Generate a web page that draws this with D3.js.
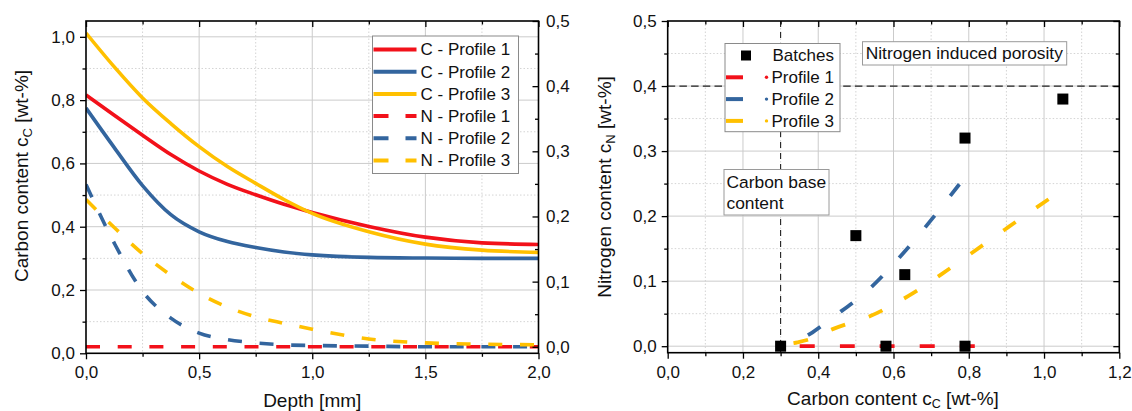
<!DOCTYPE html>
<html>
<head>
<meta charset="utf-8">
<script src="https://cdn.jsdelivr.net/npm/d3@7"></script>
<style>
  html, body { margin: 0; padding: 0; background: #fff; }
  svg { display: block; }
  svg text { font-family: "Liberation Sans", Arial, sans-serif; fill: #111; }
  .tick text { font-size: 17px; }
  .legend text { font-size: 17px; }
  .note text { font-size: 17.4px; }
  .title { font-size: 19px; }
</style>
</head>
<body>
<svg id="chart" width="1132" height="411"></svg>
<script>
// Depth profiles (depth in mm, contents in wt-%)
const depth     = [0, 0.125, 0.25, 0.375, 0.5, 0.625, 0.75, 0.875, 1.0, 1.25, 1.5, 1.75, 2.0];
const carbon1   = [0.816, 0.752, 0.689, 0.628, 0.576, 0.534, 0.501, 0.471, 0.445, 0.401, 0.367, 0.349, 0.344];
const carbon2   = [0.775, 0.650, 0.530, 0.438, 0.384, 0.353, 0.334, 0.320, 0.311, 0.303, 0.301, 0.300, 0.300];
const carbon3   = [1.012, 0.905, 0.807, 0.726, 0.653, 0.590, 0.537, 0.486, 0.442, 0.384, 0.345, 0.326, 0.319];
const nitrogen1 = [0, 0, 0, 0, 0, 0, 0, 0, 0, 0, 0, 0, 0];
const nitrogen2 = [0.249, 0.159, 0.085, 0.044, 0.021, 0.011, 0.006, 0.003, 0.002, 0.001, 0, 0, 0];
const nitrogen3 = [0.226, 0.183, 0.143, 0.110, 0.082, 0.061, 0.046, 0.036, 0.027, 0.012, 0.006, 0.004, 0.003];

// Measured batches
const batchCarbon   = [0.30, 0.50, 0.58, 0.63, 0.79, 0.79, 1.05];
const batchNitrogen = [0, 0.17, 0, 0.11, 0.32, 0, 0.38];

// Reference limits
const carbonBase = 0.3;
const porosityLimit = 0.4;

// Tick values
const depthMajor    = [0, 0.5, 1.0, 1.5, 2.0];
const depthMinor    = [0.25, 0.75, 1.25, 1.75];
const carbonMajorL  = [0, 0.2, 0.4, 0.6, 0.8, 1.0];
const carbonMinorL  = [0.1, 0.3, 0.5, 0.7, 0.9];
const nitroMajor    = [0, 0.1, 0.2, 0.3, 0.4, 0.5];
const nitroMinor    = [0.05, 0.15, 0.25, 0.35, 0.45];
const carbonMajorR  = [0, 0.2, 0.4, 0.6, 0.8, 1.0, 1.2];
const carbonMinorR  = [0.1, 0.3, 0.5, 0.7, 0.9, 1.1];

const profileNames = ["Profile 1", "Profile 2", "Profile 3"];
const colors = ["#f2111a", "#33659e", "#ffc000"];

const fmt = d3.formatLocale({decimal: ",", thousands: ".", grouping: [3], currency: ["", ""]}).format(".1f");
const svg = d3.select("#chart");

// ---------- helpers ----------
function drawAxis(g, axisFn, scale, major, minor, side, labels) {
  const inward = side === "top" || side === "right-in";
  const base = side === "right-in" ? d3.axisRight : axisFn;
  const maj = base(scale).tickValues(major).tickSize(inward ? -6 : 6)
    .tickPadding(side === "bottom" ? 7 : (side === "right-in" ? 7.5 : 5))
    .tickFormat(labels ? fmt : () => "");
  const min = base(scale).tickValues(minor).tickSize(inward ? -3.5 : 3.5).tickFormat(() => "");
  const a = g.append("g").call(maj);
  const b = g.append("g").call(min);
  [a, b].forEach(s => {
    s.select(".domain").remove();
    s.attr("font-size", null).attr("font-family", null);
    s.selectAll("line").attr("stroke", "#000").attr("stroke-width", 1.3);
  });
}

function grid(g, scale, values, orient, box, minor) {
  g.selectAll(null).data(values).join("line")
    .attr("x1", d => orient === "v" ? scale(d) : box.x0)
    .attr("x2", d => orient === "v" ? scale(d) : box.x1)
    .attr("y1", d => orient === "v" ? box.y0 : scale(d))
    .attr("y2", d => orient === "v" ? box.y1 : scale(d))
    .attr("stroke", minor ? "#d4d4d4" : "#cbcbcb")
    .attr("stroke-width", 1)
    .attr("stroke-dasharray", minor ? "1.5,2" : null);
}

// ---------- left panel: profiles over depth ----------
const L = {x0: 86, x1: 538.5, y0: 21, y1: 353.3};
const xD = d3.scaleLinear().domain([0, 2]).range([L.x0, L.x1]);
const yC = d3.scaleLinear().domain([0, 1.05]).range([L.y1, L.y0]);
const yN = d3.scaleLinear().domain([-0.01, 0.5]).range([L.y1, L.y0]);

const left = svg.append("g");
svg.append("clipPath").attr("id", "clipL").append("rect")
  .attr("x", L.x0).attr("y", L.y0).attr("width", L.x1 - L.x0).attr("height", L.y1 - L.y0);

const gl = left.append("g");
grid(gl, xD, depthMinor, "v", L, true);
grid(gl, yC, carbonMinorL, "h", L, true);
grid(gl, xD, depthMajor.slice(1, -1), "v", L, false);
grid(gl, yC, carbonMajorL.slice(1), "h", L, false);

const carbonSets = [carbon1, carbon2, carbon3];
const nitroSets = [nitrogen1, nitrogen2, nitrogen3];
const lineC = d3.line().x(d => xD(d[0])).y(d => yC(d[1])).curve(d3.curveMonotoneX);
const lineN = d3.line().x(d => xD(d[0])).y(d => yN(d[1])).curve(d3.curveMonotoneX);

const curves = left.append("g").attr("clip-path", "url(#clipL)");
nitroSets.forEach((n, i) => {
  curves.append("path").attr("d", lineN(d3.zip(depth, n)))
    .attr("fill", "none").attr("stroke", colors[i]).attr("stroke-width", 3.6)
    .attr("stroke-dasharray", "14,17.7");
});
carbonSets.forEach((c, i) => {
  curves.append("path").attr("d", lineC(d3.zip(depth, c)))
    .attr("fill", "none").attr("stroke", colors[i]).attr("stroke-width", 3.6);
});

// left legend
const lg = left.append("g").attr("class", "legend");
lg.append("rect").attr("x", 372.5).attr("y", 36).attr("width", 146).attr("height", 137.5)
  .attr("fill", "#fff").attr("stroke", "#8a8a8a").attr("stroke-width", 1);
const legendL = [
  ...profileNames.map((p, i) => ({label: "C - " + p, color: colors[i], dash: null})),
  ...profileNames.map((p, i) => ({label: "N - " + p, color: colors[i], dash: "15,17"}))
];
legendL.forEach((e, i) => {
  const y = 49.5 + i * 22.2;
  lg.append("line").attr("x1", 373.5).attr("x2", 416.5).attr("y1", y).attr("y2", y)
    .attr("stroke", e.color).attr("stroke-width", 4).attr("stroke-dasharray", e.dash);
  lg.append("text").attr("x", 420.5).attr("y", y).attr("dy", "0.35em").text(e.label);
});

// left axes and frame
drawAxis(left.append("g").attr("transform", `translate(0,${L.y1})`), d3.axisBottom, xD, depthMajor, depthMinor, "bottom", true);
drawAxis(left.append("g").attr("transform", `translate(0,${L.y0})`), d3.axisTop, xD, depthMajor, depthMinor, "top", false);
drawAxis(left.append("g").attr("transform", `translate(${L.x0},0)`), d3.axisLeft, yC, carbonMajorL, carbonMinorL, "left", true);
drawAxis(left.append("g").attr("transform", `translate(${L.x1},0)`), d3.axisRight, yN, nitroMajor, nitroMinor, "right-in", true);
left.append("rect").attr("x", L.x0).attr("y", L.y0).attr("width", L.x1 - L.x0).attr("height", L.y1 - L.y0)
  .attr("fill", "none").attr("stroke", "#000").attr("stroke-width", 1.6);

left.append("text").attr("class", "title").attr("x", (L.x0 + L.x1) / 2).attr("y", 406.5)
  .attr("text-anchor", "middle").text("Depth [mm]");
const tL = left.append("text").attr("class", "title").attr("text-anchor", "middle")
  .attr("transform", "translate(27.5,176) rotate(-90)");
tL.append("tspan").text("Carbon content c");
tL.append("tspan").attr("font-size", 13).attr("dy", 4).text("C");
tL.append("tspan").attr("dy", -4).text(" [wt-%]");

// ---------- right panel: nitrogen over carbon ----------
const R = {x0: 667.7, x1: 1119.3, y0: 21, y1: 352.7};
const xR = d3.scaleLinear().domain([0, 1.2]).range([R.x0, R.x1]);
const yR = d3.scaleLinear().domain([-0.01, 0.5]).range([R.y1, R.y0]);

const right = svg.append("g");
svg.append("clipPath").attr("id", "clipR").append("rect")
  .attr("x", R.x0).attr("y", R.y0).attr("width", R.x1 - R.x0).attr("height", R.y1 - R.y0);

const gr = right.append("g");
grid(gr, xR, carbonMinorR, "v", R, true);
grid(gr, yR, nitroMinor, "h", R, true);
grid(gr, xR, carbonMajorR.slice(1, -1), "v", R, false);
grid(gr, yR, nitroMajor.slice(0, -1), "h", R, false);

// reference limits
right.append("line").attr("x1", R.x0).attr("x2", R.x1).attr("y1", yR(porosityLimit)).attr("y2", yR(porosityLimit))
  .attr("stroke", "#222").attr("stroke-width", 1.3).attr("stroke-dasharray", "7.5,4.2");
right.append("line").attr("x1", xR(carbonBase)).attr("x2", xR(carbonBase)).attr("y1", R.y0).attr("y2", R.y1)
  .attr("stroke", "#222").attr("stroke-width", 1.1).attr("stroke-dasharray", "6,5");

const lineCN = d3.line().x(d => xR(d[0])).y(d => yR(d[1])).curve(d3.curveCatmullRom.alpha(0.5));
const pr = right.append("g").attr("clip-path", "url(#clipR)");
carbonSets.forEach((c, i) => {
  pr.append("path").attr("d", lineCN(d3.zip(c, nitroSets[i])))
    .attr("fill", "none").attr("stroke", colors[i]).attr("stroke-width", 3.8)
    .attr("stroke-dasharray", "15,25");
});

const sq = 11;
pr.selectAll(null).data(d3.zip(batchCarbon, batchNitrogen)).join("rect")
  .attr("x", d => xR(d[0]) - sq / 2).attr("y", d => yR(d[1]) - sq / 2)
  .attr("width", sq).attr("height", sq).attr("fill", "#000");

// annotation boxes
const nb = right.append("g").attr("class", "note");
nb.append("rect").attr("x", 724).attr("y", 169.5).attr("width", 105).attr("height", 45.5)
  .attr("fill", "#fff").attr("stroke", "#9a9a9a").attr("stroke-width", 1);
nb.append("text").attr("x", 726.5).attr("y", 181.7).attr("dy", "0.35em").text("Carbon base");
nb.append("text").attr("x", 726.5).attr("y", 202.7).attr("dy", "0.35em").text("content");
nb.append("rect").attr("x", 862.5).attr("y", 41.7).attr("width", 204.2).attr("height", 23.3)
  .attr("fill", "#fff").attr("stroke", "#9a9a9a").attr("stroke-width", 1);
nb.append("text").attr("x", 865.7).attr("y", 53.4).attr("dy", "0.35em").text("Nitrogen induced porosity");

// right legend
const rg = right.append("g").attr("class", "legend");
rg.append("rect").attr("x", 725).attr("y", 43.5).attr("width", 115).attr("height", 88.2)
  .attr("fill", "#fff").attr("stroke", "#8a8a8a").attr("stroke-width", 1);
rg.append("rect").attr("x", 746 - 5).attr("y", 55.5 - 5).attr("width", 10).attr("height", 10).attr("fill", "#000");
rg.append("text").attr("x", 772.5).attr("y", 55.5).attr("dy", "0.35em").text("Batches");
profileNames.forEach((p, i) => {
  const y = 77.3 + i * 21.8;
  rg.append("line").attr("x1", 726).attr("x2", 743).attr("y1", y).attr("y2", y)
    .attr("stroke", colors[i]).attr("stroke-width", 4);
  rg.append("circle").attr("cx", 766.5).attr("cy", y).attr("r", 1.7).attr("fill", colors[i]);
  rg.append("text").attr("x", 771.5).attr("y", y).attr("dy", "0.35em").text(p);
});

// right axes and frame
drawAxis(right.append("g").attr("transform", `translate(0,${R.y1})`), d3.axisBottom, xR, carbonMajorR, carbonMinorR, "bottom", true);
drawAxis(right.append("g").attr("transform", `translate(0,${R.y0})`), d3.axisTop, xR, carbonMajorR, carbonMinorR, "top", false);
drawAxis(right.append("g").attr("transform", `translate(${R.x0},0)`), d3.axisLeft, yR, nitroMajor, nitroMinor, "left", true);
drawAxis(right.append("g").attr("transform", `translate(${R.x1},0)`), d3.axisRight, yR, nitroMajor, nitroMinor, "right-in", false);
right.append("rect").attr("x", R.x0).attr("y", R.y0).attr("width", R.x1 - R.x0).attr("height", R.y1 - R.y0)
  .attr("fill", "none").attr("stroke", "#000").attr("stroke-width", 1.6);

const tX = right.append("text").attr("class", "title").attr("x", 893).attr("y", 404.5).attr("text-anchor", "middle");
tX.append("tspan").text("Carbon content c");
tX.append("tspan").attr("font-size", 12.5).attr("dy", 3).text("C");
tX.append("tspan").attr("dy", -3).text(" [wt-%]");
const tY = right.append("text").attr("class", "title").attr("text-anchor", "middle")
  .attr("transform", "translate(610.5,187) rotate(-90)");
tY.append("tspan").text("Nitrogen content c");
tY.append("tspan").attr("font-size", 13).attr("dy", 4).text("N");
tY.append("tspan").attr("dy", -4).text(" [wt-%]");
</script>
</body>
</html>
